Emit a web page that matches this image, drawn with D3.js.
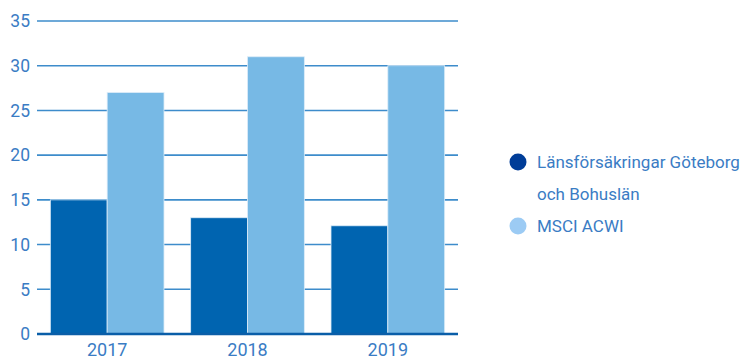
<!DOCTYPE html>
<html>
<head>
<meta charset="utf-8">
<script src="https://cdn.jsdelivr.net/npm/d3@7"></script>
<style>
	body { margin: 0; background: white; }
	svg text { font-family: Roboto, "DejaVu Sans", sans-serif; }
</style>
</head>
<body>
<svg id="chart" width="753" height="361"></svg>
<script>
var years = ["2017", "2018", "2019"];
var seriesNames = ["Länsförsäkringar Göteborg och Bohuslän", "MSCI ACWI"];
var lansValues = [15, 13, 12.1];
var msciValues = [27, 31, 30];
var yTicks = [0, 5, 10, 15, 20, 25, 30, 35];

var barColors = ["#0064b0", "#77b9e5"];
var legendColors = ["#003d98", "#9ccbf4"];
var textColor = "#3a7cc4";

var svg = d3.select("#chart");
var margin = { top: 21, right: 295, bottom: 27, left: 37 };
var width = 753 - margin.left - margin.right,
	height = 361 - margin.top - margin.bottom;

var g = svg.append("g")
	.attr("transform", "translate(" + margin.left + "," + margin.top + ")");

var x = d3.scaleBand().domain(years).range([0, width]).paddingInner(0.19).paddingOuter(0.095);
var xSub = d3.scaleBand().domain([0, 1]).range([0, x.bandwidth()]);
var y = d3.scaleLinear().domain([0, 35]).range([height, 0]);

// grid lines
g.append("g").attr("class", "grid")
	.selectAll("line").data(yTicks.filter(function(d) { return d > 0; }))
	.enter().append("line")
	.attr("x1", 0).attr("x2", width)
	.attr("y1", function(d) { return y(d); })
	.attr("y2", function(d) { return y(d); })
	.attr("stroke", "#3d8ccb")
	.attr("stroke-width", 1.6);

// y labels
g.append("g").selectAll("text").data(yTicks)
	.enter().append("text")
	.attr("x", -7)
	.attr("y", function(d) { return y(d); })
	.attr("dy", "0.36em")
	.attr("text-anchor", "end")
	.attr("fill", textColor)
	.attr("font-size", "17.5px")
	.text(function(d) { return d; });

// bars
var data = years.map(function(yr, i) { return { year: yr, vals: [lansValues[i], msciValues[i]] }; });
var groups = g.selectAll(".year").data(data).enter().append("g")
	.attr("transform", function(d) { return "translate(" + x(d.year) + ",0)"; });
groups.selectAll("rect").data(function(d) { return d.vals; })
	.enter().append("rect")
	.attr("x", function(d, i) { return xSub(i); })
	.attr("y", function(d) { return y(d); })
	.attr("width", xSub.bandwidth())
	.attr("height", function(d) { return height - y(d); })
	.attr("fill", function(d, i) { return barColors[i]; })
	.attr("stroke", "#dcecf8")
	.attr("stroke-width", 0.8);

// baseline
g.append("line")
	.attr("x1", 0).attr("x2", width)
	.attr("y1", height).attr("y2", height)
	.attr("stroke", "#0a5ea8")
	.attr("stroke-width", 2.6);

// x labels
g.append("g").selectAll("text").data(years)
	.enter().append("text")
	.attr("x", function(d) { return x(d) + x.bandwidth() / 2; })
	.attr("y", height + 22)
	.attr("text-anchor", "middle")
	.attr("fill", textColor)
	.attr("font-size", "18px")
	.text(function(d) { return d; });

// legend
var legend = svg.append("g").attr("transform", "translate(518,0)");
var legendLines = [["Länsförsäkringar Göteborg", "och Bohuslän"], ["MSCI ACWI"]];
var legendY = [162, 226];
legendLines.forEach(function(lines, i) {
	legend.append("circle")
		.attr("cx", 0).attr("cy", legendY[i]).attr("r", 8.5)
		.attr("fill", legendColors[i]);
	lines.forEach(function(t, j) {
		legend.append("text")
			.attr("x", 19)
			.attr("y", legendY[i] + j * 32)
			.attr("dy", "0.36em")
			.attr("fill", textColor)
			.attr("font-size", "17px")
			.text(t);
	});
});
</script>
</body>
</html>
